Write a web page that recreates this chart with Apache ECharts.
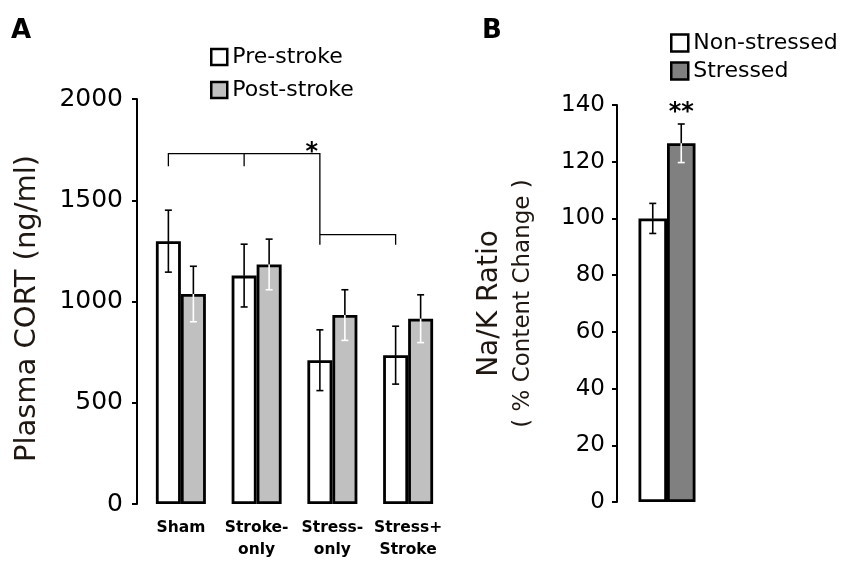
<!DOCTYPE html>
<html>
<head>
<meta charset="utf-8">
<script src="https://cdn.jsdelivr.net/npm/echarts@6/dist/echarts.min.js"></script>
<style>
html,body{margin:0;padding:0;background:#fff}
#main{width:850px;height:564px}
</style>
</head>
<body>
<div id="main"></div>
<script>
// panel A - plasma CORT
var groupsA = ['Sham', 'Stroke-\nonly', 'Stress-\nonly', 'Stress+\nStroke'];
var preStroke = [1298, 1128, 710, 735];
var preStrokeSem = [153, 155, 150, 143];
var postStroke = [1037, 1183, 933, 915];
var postStrokeSem = [137, 125, 125, 118];
var ticksA = [0, 2000, 500]; // min, max, step
// significance bracket levels (top line, top ticks, lower line, lower ticks)
var bracketLevels = [1730, 1668, 1330, 1280];

// panel B - Na/K ratio
var groupsB = ['Na/K'];
var nonStressed = [100];
var nonStressedSem = [5.3];
var stressed = [126.5];
var stressedSem = [6.8];
var ticksB = [0, 140, 20];

var FONT = 'DejaVu Sans';
var barWA = 25, barWB = 28.5;

function errBars(shift, lowColor) {
  return function (params, api) {
    var c = api.value(0), m = api.value(1), s = api.value(2);
    var top = api.coord([c, m + s]);
    var mid = api.coord([c, m]);
    var bot = api.coord([c, m - s]);
    var x = mid[0] + shift, cap = 3.5;
    return {
      type: 'group',
      children: [
        {type: 'line', shape: {x1: x, y1: top[1], x2: x, y2: mid[1]}, style: {stroke: '#000', lineWidth: 1.6}},
        {type: 'line', shape: {x1: x - cap, y1: top[1], x2: x + cap, y2: top[1]}, style: {stroke: '#000', lineWidth: 1.6}},
        {type: 'line', shape: {x1: x, y1: mid[1], x2: x, y2: bot[1]}, style: {stroke: lowColor, lineWidth: 1.6}},
        {type: 'line', shape: {x1: x - cap, y1: bot[1], x2: x + cap, y2: bot[1]}, style: {stroke: lowColor, lineWidth: 1.6}}
      ]
    };
  };
}

function toErr(vals, sems) {
  return vals.map(function (v, i) { return [i, v, sems[i]]; });
}

var myChart = echarts.init(document.getElementById('main'));
var option = {
  backgroundColor: '#fff',
  animation: false,
  title: [
    {text: 'A', left: 11, top: 18, padding: 0, textStyle: {fontFamily: FONT, fontSize: 26, fontWeight: 'bold', color: '#000'}},
    {text: 'B', left: 482, top: 18, padding: 0, textStyle: {fontFamily: FONT, fontSize: 26, fontWeight: 'bold', color: '#000'}}
  ],
  legend: [
    {
      data: [
        {name: 'Pre-stroke', icon: 'rect', itemStyle: {color: '#fff', borderColor: '#000', borderWidth: 2.5}},
        {name: 'Post-stroke', icon: 'rect', itemStyle: {color: '#c0c0c0', borderColor: '#000', borderWidth: 2.5}}
      ],
      orient: 'vertical', left: 210, top: 46, padding: 0,
      itemWidth: 16, itemHeight: 16, itemGap: 11,
      textStyle: {fontFamily: FONT, fontSize: 22, lineHeight: 22, color: '#000'}
    },
    {
      data: [
        {name: 'Non-stressed', icon: 'rect', itemStyle: {color: '#fff', borderColor: '#000', borderWidth: 2.5}},
        {name: 'Stressed', icon: 'rect', itemStyle: {color: '#808080', borderColor: '#000', borderWidth: 2.5}}
      ],
      orient: 'vertical', left: 670, top: 32, padding: 0,
      itemWidth: 17, itemHeight: 17, itemGap: 6,
      textStyle: {fontFamily: FONT, fontSize: 22, lineHeight: 22, color: '#000'}
    }
  ],
  grid: [
    {left: 143, top: 99, width: 303, height: 405},
    {left: 617, top: 105, width: 100, height: 397}
  ],
  xAxis: [
    {
      type: 'category', gridIndex: 0, data: groupsA,
      axisLine: {show: false}, axisTick: {show: false},
      axisLabel: {fontFamily: FONT, fontSize: 15.5, fontWeight: 'bold', color: '#000', lineHeight: 22, margin: 13, interval: 0}
    },
    {
      type: 'category', gridIndex: 1, data: groupsB,
      axisLine: {show: false}, axisTick: {show: false}, axisLabel: {show: false}
    }
  ],
  yAxis: [
    {
      type: 'value', gridIndex: 0, min: ticksA[0], max: ticksA[1], interval: ticksA[2], offset: 6,
      splitLine: {show: false},
      axisLine: {show: true, lineStyle: {color: '#000', width: 2}},
      axisTick: {show: true, length: 5, lineStyle: {color: '#000', width: 2}},
      axisLabel: {fontFamily: FONT, fontSize: 25, color: '#000', margin: 14, formatter: function (v) { return String(v); }},
      name: 'Plasma CORT (ng/ml)', nameLocation: 'middle', nameRotate: 90, nameGap: 95,
      nameTextStyle: {fontFamily: FONT, fontSize: 29, color: '#1f1712', padding: [0, 14, 0, 0]}
    },
    {
      type: 'value', gridIndex: 1, min: ticksB[0], max: ticksB[1], interval: ticksB[2],
      splitLine: {show: false},
      axisLine: {show: true, lineStyle: {color: '#000', width: 2}},
      axisTick: {show: true, length: 5, lineStyle: {color: '#000', width: 2}},
      axisLabel: {fontFamily: FONT, fontSize: 23, color: '#000', margin: 12},
      name: '{a|Na/K Ratio}\n{b|( % Content Change )}', nameLocation: 'middle', nameRotate: 90, nameGap: 79,
      nameTextStyle: {
        fontFamily: FONT, color: '#1f1712',
        rich: {
          a: {fontFamily: FONT, fontSize: 28, lineHeight: 36, color: '#1f1712'},
          b: {fontFamily: FONT, fontSize: 23, lineHeight: 30, color: '#1f1712'}
        }
      }
    }
  ],
  series: [
    {
      name: 'Pre-stroke', type: 'bar', xAxisIndex: 0, yAxisIndex: 0, data: preStroke,
      barWidth: barWA, barGap: '0%',
      itemStyle: {color: '#fff', borderColor: '#000', borderWidth: 2.8}
    },
    {
      name: 'Post-stroke', type: 'bar', xAxisIndex: 0, yAxisIndex: 0, data: postStroke,
      barWidth: barWA, barGap: '0%',
      itemStyle: {color: '#c0c0c0', borderColor: '#000', borderWidth: 2.8}
    },
    {
      type: 'custom', xAxisIndex: 0, yAxisIndex: 0, z: 5,
      data: toErr(preStroke, preStrokeSem), renderItem: errBars(-barWA / 2, '#000')
    },
    {
      type: 'custom', xAxisIndex: 0, yAxisIndex: 0, z: 5,
      data: toErr(postStroke, postStrokeSem), renderItem: errBars(barWA / 2, '#fff')
    },
    {
      // significance bracket between pre-stroke bars
      type: 'custom', xAxisIndex: 0, yAxisIndex: 0, z: 5, data: [[0, bracketLevels[0]]],
      renderItem: function (params, api) {
        var h = -barWA / 2;
        function p(c, lv) { var q = api.coord([c, lv]); return [q[0] + h, q[1]]; }
        var st = {stroke: '#000', lineWidth: 1.3, fill: null};
        return {
          type: 'group',
          children: [
            {type: 'polyline', shape: {points: [p(0, bracketLevels[1]), p(0, bracketLevels[0]), p(2, bracketLevels[0]), p(2, bracketLevels[3])]}, style: st},
            {type: 'polyline', shape: {points: [p(1, bracketLevels[0]), p(1, bracketLevels[1])]}, style: st},
            {type: 'polyline', shape: {points: [p(2, bracketLevels[2]), p(3, bracketLevels[2]), p(3, bracketLevels[3])]}, style: st},
            {type: 'text', x: p(2, bracketLevels[0])[0] - 8, y: p(2, bracketLevels[0])[1] - 1,
              style: {text: '*', fontFamily: FONT, fontSize: 24, fontWeight: 'bold', fill: '#000', align: 'center', verticalAlign: 'middle'}}
          ]
        };
      }
    },
    {
      name: 'Non-stressed', type: 'bar', xAxisIndex: 1, yAxisIndex: 1, data: nonStressed,
      barWidth: barWB, barGap: '0%',
      itemStyle: {color: '#fff', borderColor: '#000', borderWidth: 2.8}
    },
    {
      name: 'Stressed', type: 'bar', xAxisIndex: 1, yAxisIndex: 1, data: stressed,
      barWidth: barWB, barGap: '0%',
      itemStyle: {color: '#808080', borderColor: '#000', borderWidth: 2.8}
    },
    {
      type: 'custom', xAxisIndex: 1, yAxisIndex: 1, z: 5,
      data: toErr(nonStressed, nonStressedSem), renderItem: errBars(-barWB / 2, '#000')
    },
    {
      type: 'custom', xAxisIndex: 1, yAxisIndex: 1, z: 5,
      data: toErr(stressed, stressedSem), renderItem: errBars(barWB / 2, '#fff')
    },
    {
      // ** above stressed bar
      type: 'custom', xAxisIndex: 1, yAxisIndex: 1, z: 5,
      data: toErr(stressed, stressedSem),
      renderItem: function (params, api) {
        var q = api.coord([api.value(0), api.value(1) + api.value(2)]);
        return {type: 'text', x: q[0] + barWB / 2, y: q[1] - 11,
          style: {text: '**', fontFamily: FONT, fontSize: 24, fontWeight: 'bold', fill: '#000', align: 'center', verticalAlign: 'middle'}};
      }
    }
  ]
};
myChart.setOption(option);
</script>
</body>
</html>
